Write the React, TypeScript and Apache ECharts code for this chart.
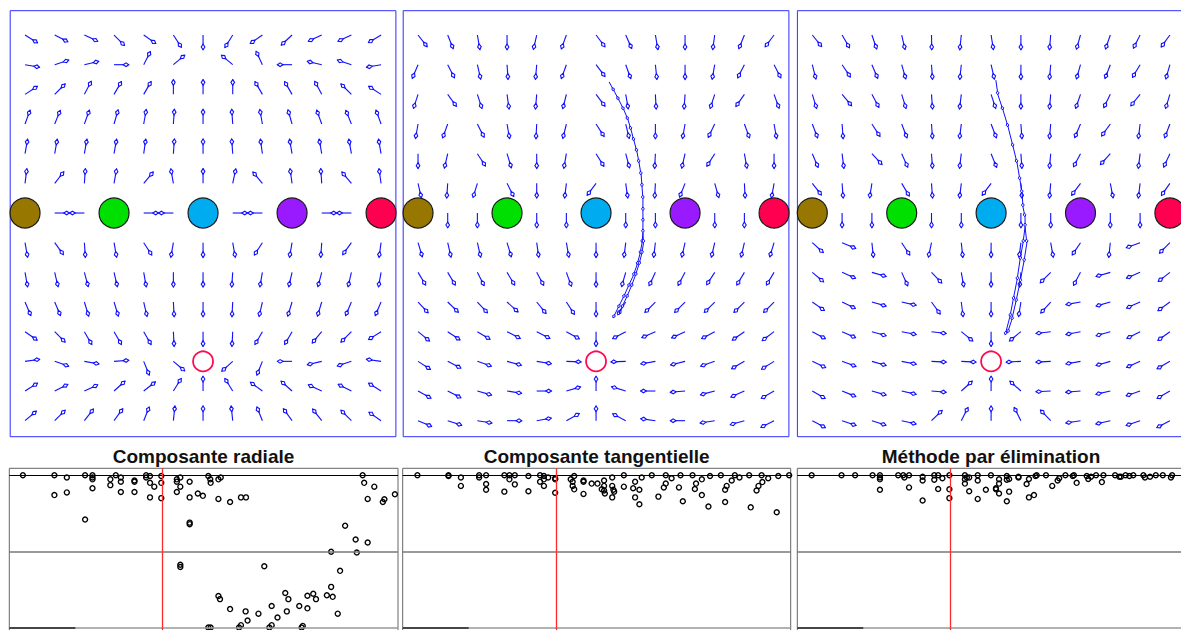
import React, { useEffect, useRef } from "react";
import * as echarts from "echarts";

// ---------- DATA ----------
// Arrow directions (degrees, 0 = right, 90 = up) on a 13-column x 14-row grid; null = no arrow
const radialAngles: (number | null)[][] = [
  [-32, -27, -25, -45, -35, -57, -90, -122, -145, -137, -155, -155, -149],
  [-10, 18, 13, 0, 63, 40, null, 140, 115, 180, 167, 162, -170],
  [33, 45, 62, 60, 60, 90, 90, 90, 120, 120, 118, 135, 147],
  [70, 68, 70, 74, 80, 86, 90, 94, 100, 106, 110, 112, 110],
  [80, 80, 80, 80, 82, 86, 90, 94, 98, 100, 100, 100, 100],
  [83, 52, 86, 80, 50, 100, 90, 78, 130, 98, 94, 130, 98],
  [null, 0, 180, null, 0, 180, null, 0, 180, null, 0, 180, null],
  [-80, -54, -86, -80, -57, -100, -90, -80, -123, -100, -94, -126, -98],
  [-80, -77, -75, -77, -80, -90, -90, -94, -100, -103, -105, -103, -100],
  [-67, -67, -73, -73, -77, -87, -90, -93, -103, -107, -107, -113, -113],
  [-35, -45, -60, -60, -60, -87, -90, -93, -120, -120, -130, -135, -148],
  [8, -19, -10, 4, -68, -40, null, -138, -112, 180, -167, -162, 172],
  [32, 27, 25, 42, 38, 58, 90, 122, 144, 138, 155, 153, 148],
  [40, 45, 52, 54, 68, 84, 90, 96, 112, 126, 128, 135, 145],
];

const tangentialAngles: (number | null)[][] = [
  [-52, -68, -80, -90, -103, -110, -53, -66, -80, -90, -98, -112, -127],
  [-113, -63, -77, -86, -95, -110, -53, -70, -84, -90, -100, -117, -63],
  [-108, -54, -72, -82, -95, -104, -53, -80, -87, -94, -108, -125, -70],
  [-100, -110, -63, -80, -93, -104, -57, -76, -90, -100, -116, -70, -80],
  [-90, -103, -57, -73, -90, -100, -58, -75, -93, -103, -122, -80, -90],
  [-77, -94, -107, -63, -90, -97, -127, -82, -93, -112, -74, -87, -100],
  [null, -90, -90, null, -90, -90, null, -90, -90, null, -90, -90, null],
  [-73, -77, -77, -73, -82, -80, -90, -97, -97, -103, -103, -103, -107],
  [-59, -59, -63, -59, -62, -70, -90, -106, -115, -118, -123, -121, -121],
  [-47, -44, -47, -42, -51, -57, -90, -122, -135, -135, -135, -135, -135],
  [-39, -34, -31, -27, -27, -29, -90, -152, -156, -155, -152, -145, -143],
  [-33, -27, -19, -15, -9, -2, null, -178, -170, -166, -161, -150, -148],
  [-29, -27, -16, -9, 0, 16, 90, 163, 180, -175, -165, -156, -150],
  [-23, -18, -9, 0, 10, 29, 90, 152, 172, 180, -171, -164, -153],
];

const eliminationAngles: (number | null)[][] = [
  [-51, -60, -71, -77, -89, -96, -81, -90, -95, -106, -109, -117, -126],
  [-76, -56, -67, -74, -86, -96, -77, -90, -95, -106, -111, -121, -106],
  [-73, -50, -62, -73, -86, -97, -72, -90, -95, -109, -116, -129, -107],
  [-69, -86, -57, -69, -86, -97, -69, -86, -95, -113, -126, -97, -111],
  [-67, -83, -47, -66, -86, -97, -68, -86, -95, -118, -132, -97, -115],
  [-52, -86, -99, -59, -86, -97, -127, -86, -95, -127, -79, -97, -125],
  [null, -90, -90, null, -90, -90, null, -90, -90, null, -90, -90, null],
  [-42, -23, -84, -57, -102, -84, -90, -97, -80, -124, -96, -160, -135],
  [-40, -24, -16, -66, -46, -80, -90, -95, -135, -118, -164, -157, -142],
  [-35, -26, -16, -13, -54, -83, -90, -99, -132, -170, -164, -156, -144],
  [-28, -24, -16, -11, -7, -39, -90, -141, -173, -169, -164, -153, -144],
  [-25, -20, -16, -11, -3, -3, null, -177, -177, -170, -164, -156, -150],
  [-30, -22, -16, -13, -5, 42, 90, 138, -177, -175, -167, -161, -150],
  [-28, -19, -18, -13, 44, 63, 90, 117, 134, -171, -167, -161, -152],
];

// Sensors (coloured discs) on the grid and the source (open red circle)
const sensorCols = [0, 3, 6, 9, 12];
const sensorRow = 6;
const sensorColors = ["#977700", "#00e000", "#00acf0", "#9a1aff", "#ff0050"];
const sourcePoint = [6, 11];

// Estimated trajectories (grid units)
const tangentialPathA = [
  [6.44, 1.58], [6.61, 1.89], [6.77, 2.19], [6.94, 2.53], [7.08, 2.86], [7.18, 3.2], [7.28, 3.57],
  [7.38, 3.94], [7.45, 4.31], [7.52, 4.72], [7.55, 5.12], [7.58, 5.53], [7.58, 5.93], [7.58, 6.3],
  [7.58, 6.67], [7.55, 7.01], [7.48, 7.38], [7.38, 7.75], [7.25, 8.12], [7.08, 8.49], [6.91, 8.86],
  [6.74, 9.2], [6.57, 9.54],
];
const tangentialPathB = [
  [7.58, 6.67], [7.6, 7.01], [7.54, 7.38], [7.44, 7.75], [7.32, 8.12], [7.18, 8.49], [7.02, 8.86],
  [6.86, 9.2], [6.72, 9.44],
];
const eliminationPathA = [
  [6.16, 1.52], [6.23, 2.02], [6.4, 2.53], [6.57, 3.1], [6.74, 3.77], [6.87, 4.31], [6.97, 4.89],
  [7.04, 5.33], [7.07, 5.8], [7.14, 6.13], [7.14, 6.47], [7.07, 7.01], [6.97, 7.58], [6.87, 8.26],
  [6.74, 8.93], [6.63, 9.5], [6.47, 10.11],
];
const eliminationPathB = [
  [7.14, 6.47], [7.2, 7.01], [7.1, 7.65], [6.97, 8.33], [6.83, 9.0], [6.69, 9.61], [6.55, 10.04],
];

// Lower panels: score vs position (position 0..100, score -1..1)
const radialScores = [
  [3.5, 1.0], [11.6, 1.0], [11.6, 0.74], [14.8, 0.97], [14.8, 0.775], [19.5, 1.0], [19.5, 0.42],
  [21.4, 1.0], [21.4, 0.97], [21.4, 0.946], [21.4, 0.83], [26.0, 0.946], [26.0, 0.87], [27.4, 1.0],
  [28.7, 0.97], [28.7, 0.915], [28.7, 0.78], [32.2, 0.93], [32.2, 0.915], [32.2, 0.78], [35.2, 1.0],
  [35.2, 0.97], [36.2, 0.99], [36.2, 0.9], [36.2, 0.71], [37.3, 0.85], [39.1, 0.99], [39.1, 0.9],
  [39.1, 0.7], [43.1, 0.946], [43.1, 0.915], [43.1, 0.78], [44.0, 0.97], [44.0, 0.85], [46.4, 0.915],
  [46.4, 0.71], [46.4, 0.38], [46.4, 0.36], [44.0, -0.17], [44.0, -0.2], [48.5, 0.76], [49.8, 0.73],
  [51.2, 0.99], [51.7, 0.946], [51.8, 0.9], [53.8, 0.946], [54.4, 0.97], [53.8, 0.69], [56.8, 0.65],
  [59.6, 0.71], [60.9, 0.71], [53.8, -0.58], [54.2, -0.62], [56.8, -0.75], [60.8, -0.78], [61.3, -0.9],
  [59.6, -0.96], [59.1, -0.99], [51.2, -0.99], [51.8, -0.99], [64.1, -0.81], [65.6, -0.19], [66.9, -0.99],
  [67.5, -0.96], [67.5, -0.71], [69.0, -0.86], [71.0, -0.54], [71.4, -0.78], [71.8, -0.62], [74.6, -0.71],
  [75.2, -0.99], [75.5, -0.97], [76.7, -0.74], [76.7, -0.575], [78.2, -0.55], [78.9, -0.62], [81.7, -0.57],
  [82.8, -0.46], [83.2, -0.59], [84.5, -0.81], [82.8, 0.0], [85.1, -0.25], [86.4, 0.34], [89.1, 0.16],
  [89.4, -0.01], [92.2, 0.12], [90.9, 1.0], [91.3, 0.9], [93.9, 0.85], [92.2, 0.69], [96.1, 0.65],
  [96.5, 0.685], [99.2, 0.75],
];
const tangentialScores = [
  [3.8, 1.0], [11.8, 1.0], [11.8, 0.99], [15.0, 0.97], [15.0, 0.86], [19.7, 1.0], [19.7, 0.97],
  [21.5, 1.0], [21.5, 0.885], [21.5, 0.81], [26.2, 1.0], [26.2, 0.785], [27.5, 1.0], [27.5, 0.946],
  [28.9, 1.0], [28.9, 0.88], [32.4, 0.99], [32.4, 0.79], [35.4, 1.0], [35.4, 0.915], [36.4, 0.99],
  [36.4, 0.86], [36.4, 0.946], [37.5, 0.97], [39.3, 0.96], [39.3, 0.946], [39.3, 0.77], [43.3, 0.946],
  [43.8, 0.915], [43.8, 0.86], [44.2, 0.99], [44.2, 0.815], [46.6, 0.93], [46.6, 0.915], [46.6, 0.755],
  [48.7, 0.89], [50.2, 0.89], [51.9, 0.93], [51.9, 0.86], [51.3, 0.815], [51.9, 0.8], [52.1, 0.76],
  [54.0, 0.97], [54.0, 0.86], [54.3, 0.81], [54.5, 0.785], [54.0, 0.71], [57.0, 1.0], [57.0, 0.85],
  [59.4, 0.83], [59.9, 0.915], [59.9, 0.71], [61.0, 0.81], [61.0, 0.62], [61.6, 0.97], [64.2, 1.0],
  [65.9, 0.72], [67.3, 0.84], [67.8, 0.89], [67.8, 1.0], [69.3, 0.96], [71.2, 0.84], [71.6, 1.0],
  [72.2, 0.66], [74.7, 1.0], [75.3, 0.82], [75.6, 0.89], [77.1, 0.946], [77.1, 0.74], [78.8, 0.59],
  [79.2, 0.99], [82.0, 1.0], [83.1, 0.81], [83.1, 0.65], [83.5, 0.86], [84.8, 0.93], [85.6, 1.0],
  [86.8, 0.97], [89.3, 1.0], [89.7, 0.58], [91.2, 0.8], [91.7, 0.86], [92.5, 1.0], [92.7, 0.91],
  [94.2, 0.96], [96.4, 0.515], [96.8, 0.99], [99.6, 1.0],
];
const eliminationScores = [
  [3.7, 1.0], [11.4, 1.0], [14.9, 1.0], [19.4, 1.0], [21.3, 1.0], [21.3, 0.97], [21.3, 0.946],
  [21.3, 0.81], [26.0, 1.0], [27.3, 1.0], [27.6, 0.97], [28.8, 1.0], [28.8, 0.84], [32.3, 0.98],
  [32.3, 0.93], [32.3, 0.67], [35.3, 1.0], [35.3, 0.94], [36.3, 1.0], [36.3, 0.82], [37.4, 0.96],
  [39.2, 1.0], [39.2, 0.815], [39.2, 0.7], [43.2, 1.0], [43.2, 0.946], [43.2, 0.89], [43.7, 0.97],
  [44.3, 0.97], [44.3, 0.79], [46.5, 1.0], [46.5, 0.93], [46.5, 0.69], [48.6, 0.81], [49.9, 1.0],
  [51.2, 0.83], [51.2, 0.815], [52.0, 0.946], [52.0, 0.89], [52.0, 0.76], [54.0, 0.99], [54.0, 0.94],
  [54.6, 0.95], [54.0, 0.66], [54.6, 0.785], [57.0, 0.98], [57.0, 0.97], [59.1, 0.885], [59.7, 0.95],
  [59.7, 0.71], [61.0, 0.74], [61.4, 0.99], [61.7, 1.0], [64.1, 1.0], [65.7, 0.86], [67.1, 0.93],
  [67.5, 0.96], [69.1, 1.0], [71.0, 0.99], [71.3, 1.0], [72.0, 0.9], [74.6, 0.99], [75.0, 0.95],
  [75.7, 0.98], [77.0, 1.0], [78.5, 0.91], [78.9, 1.0], [81.9, 1.0], [83.0, 0.98], [83.4, 0.98],
  [84.6, 1.0], [85.6, 0.99], [86.6, 1.0], [89.2, 1.0], [89.6, 0.97], [90.9, 0.98], [92.4, 1.0],
  [94.2, 1.0], [96.3, 0.97], [96.6, 1.0],
];
const refLevels = [1, 0, -1];
const sourcePositions = [39.4, 39.5, 39.4];
const titles = ["Composante radiale", "Composante tangentielle", "Méthode par élimination"];

// ---------- LAYOUT / STYLE ----------
const TOP_GRIDS = [
  { left: 10.2, width: 385.7 },
  { left: 403.2, width: 385.7 },
  { left: 797.4, width: 387.4 },
];
const BOTTOM_GRIDS = [
  { left: 9.3, width: 388.7 },
  { left: 402.7, width: 388 },
  { left: 797.3, width: 388 },
];
const BLUE = "#0f0fff";

function arrowChildren(x0: number, y0: number, ang: number, len: number, headLen: number, headW: number, lw: number) {
  const rad = (ang * Math.PI) / 180;
  const dx = Math.cos(rad);
  const dy = -Math.sin(rad);
  const nx = -dy;
  const ny = dx;
  const x1 = x0 + dx * len;
  const y1 = y0 + dy * len;
  const tip = [x0 + dx * (len - 0.3), y0 + dy * (len - 0.3)];
  const back = [x0 + dx * (len - headLen), y0 + dy * (len - headLen)];
  const mid = [x0 + dx * (len - headLen * 0.5), y0 + dy * (len - headLen * 0.5)];
  return [
    { type: "line", shape: { x1: x0, y1: y0, x2: x1, y2: y1 }, style: { stroke: BLUE, lineWidth: lw } },
    {
      type: "polygon",
      shape: {
        points: [tip, [mid[0] + nx * headW, mid[1] + ny * headW], back, [mid[0] - nx * headW, mid[1] - ny * headW]],
      },
      style: { fill: "#ffffff", stroke: BLUE, lineWidth: lw },
    },
  ];
}

function fieldData(rows: (number | null)[][]) {
  const out: number[][] = [];
  rows.forEach((row, r) => row.forEach((a, c) => { if (a !== null) out.push([c, r, a]); }));
  return out;
}
function segData(path: number[][]) {
  const out: number[][] = [];
  for (let i = 1; i < path.length; i++) out.push([path[i - 1][0], path[i - 1][1], path[i][0], path[i][1]]);
  return out;
}

export default function App() {
  const ref = useRef<HTMLDivElement>(null);
  useEffect(() => {
    if (!ref.current) return;
    const chart = echarts.init(ref.current, undefined, { renderer: "svg" });

    const grids: any[] = [];
    const xAxes: any[] = [];
    const yAxes: any[] = [];
    const series: any[] = [];

    TOP_GRIDS.forEach((g, i) => {
      grids.push({ left: g.left, width: g.width, top: 10.7, height: 426, show: true, borderColor: "#2f2fff", borderWidth: 1, backgroundColor: "transparent" });
      xAxes.push({ type: "value", gridIndex: i, min: -0.5, max: 12.5, show: false });
      yAxes.push({ type: "value", gridIndex: i, min: -0.82, max: 13.54, inverse: true, show: false });
    });
    BOTTOM_GRIDS.forEach((g, i) => {
      grids.push({ left: g.left, width: g.width, top: 468.3, height: 166.8, show: true, borderColor: "#666", borderWidth: 1, backgroundColor: "transparent" });
      xAxes.push({ type: "value", gridIndex: 3 + i, min: 0, max: 100, show: false });
      yAxes.push({ type: "value", gridIndex: 3 + i, min: -1.09, max: 1.09, show: false });
    });

    const fields = [radialAngles, tangentialAngles, eliminationAngles];
    fields.forEach((f, i) => {
      series.push({
        type: "custom",
        xAxisIndex: i,
        yAxisIndex: i,
        clip: false,
        silent: true,
        data: fieldData(f),
        renderItem: (_p: any, api: any) => {
          const pt = api.coord([api.value(0), api.value(1)]);
          return { type: "group", children: arrowChildren(pt[0], pt[1], api.value(2), 15, 6, 1.8, 1.1) };
        },
      });
    });

    const paths: [number, number[][]][] = [
      [1, tangentialPathA], [1, tangentialPathB], [2, eliminationPathA], [2, eliminationPathB],
    ];
    paths.forEach(([gi, p]) => {
      series.push({
        type: "custom",
        xAxisIndex: gi,
        yAxisIndex: gi,
        clip: false,
        silent: true,
        data: segData(p),
        encode: { x: [0, 2], y: [1, 3] },
        renderItem: (_p: any, api: any) => {
          const a = api.coord([api.value(0), api.value(1)]);
          const b = api.coord([api.value(2), api.value(3)]);
          const len = Math.hypot(b[0] - a[0], b[1] - a[1]);
          const ang = (Math.atan2(-(b[1] - a[1]), b[0] - a[0]) * 180) / Math.PI;
          return { type: "group", children: arrowChildren(a[0], a[1], ang, len, 4, 1.4, 1) };
        },
      });
    });

    [0, 1, 2].forEach((i) => {
      series.push({
        type: "scatter",
        xAxisIndex: i,
        yAxisIndex: i,
        clip: false,
        silent: true,
        symbolSize: 30,
        z: 5,
        data: sensorCols.map((c, k) => ({ value: [c, sensorRow], itemStyle: { color: sensorColors[k] } })),
        itemStyle: { borderColor: "#1a1a1a", borderWidth: 1.2, opacity: 1 },
      });
      series.push({
        type: "scatter",
        xAxisIndex: i,
        yAxisIndex: i,
        clip: false,
        silent: true,
        symbolSize: 20,
        z: 5,
        data: [sourcePoint],
        itemStyle: { color: "#ffffff", borderColor: "#ff0a50", borderWidth: 1.8, opacity: 1 },
      });
    });

    const scores = [radialScores, tangentialScores, eliminationScores];
    scores.forEach((s, i) => {
      const levelColors = ["#000000", "#777777", "#999999"];
      series.push({
        type: "scatter",
        xAxisIndex: 3 + i,
        yAxisIndex: 3 + i,
        silent: true,
        clip: false,
        symbol: "circle",
        symbolSize: 5,
        z: 4,
        data: s,
        itemStyle: { color: "rgba(255,255,255,0)", borderColor: "#000", borderWidth: 1.4, opacity: 1 },
        markLine: {
          silent: true,
          symbol: ["none", "none"],
          label: { show: false },
          animation: false,
          data: [
            ...refLevels.map((v, k) => ({ yAxis: v, lineStyle: { color: levelColors[k], width: k === 0 ? 1.2 : 1.5, type: "solid" } })),
            { xAxis: sourcePositions[i], lineStyle: { color: "#ff2a2a", width: 1.3, type: "solid" } },
            [
              { coord: [0, -1], lineStyle: { color: "#222", width: 1.5, type: "solid" } },
              { coord: [17, -1], lineStyle: { color: "#222", width: 1.5, type: "solid" } },
            ],
          ],
        },
      });
    });

    const titleX = [203.5, 596.7, 991];
    const graphic = titles.map((t, i) => ({
      type: "text",
      x: titleX[i],
      y: 456,
      style: {
        text: t,
        align: "center",
        verticalAlign: "middle",
        fill: "#111",
        font: 'bold 19px "Liberation Sans", Arial, sans-serif',
      },
    }));

    chart.setOption({
      animation: false,
      backgroundColor: "#ffffff",
      grid: grids,
      xAxis: xAxes,
      yAxis: yAxes,
      series,
      graphic,
    });
    return () => chart.dispose();
  }, []);
  return (
    <div style={{ position: "absolute", left: 0, top: 0, width: 1181, height: 630, overflow: "hidden" }}>
      <div ref={ref} style={{ width: 1200, height: 650 }} />
    </div>
  );
}
